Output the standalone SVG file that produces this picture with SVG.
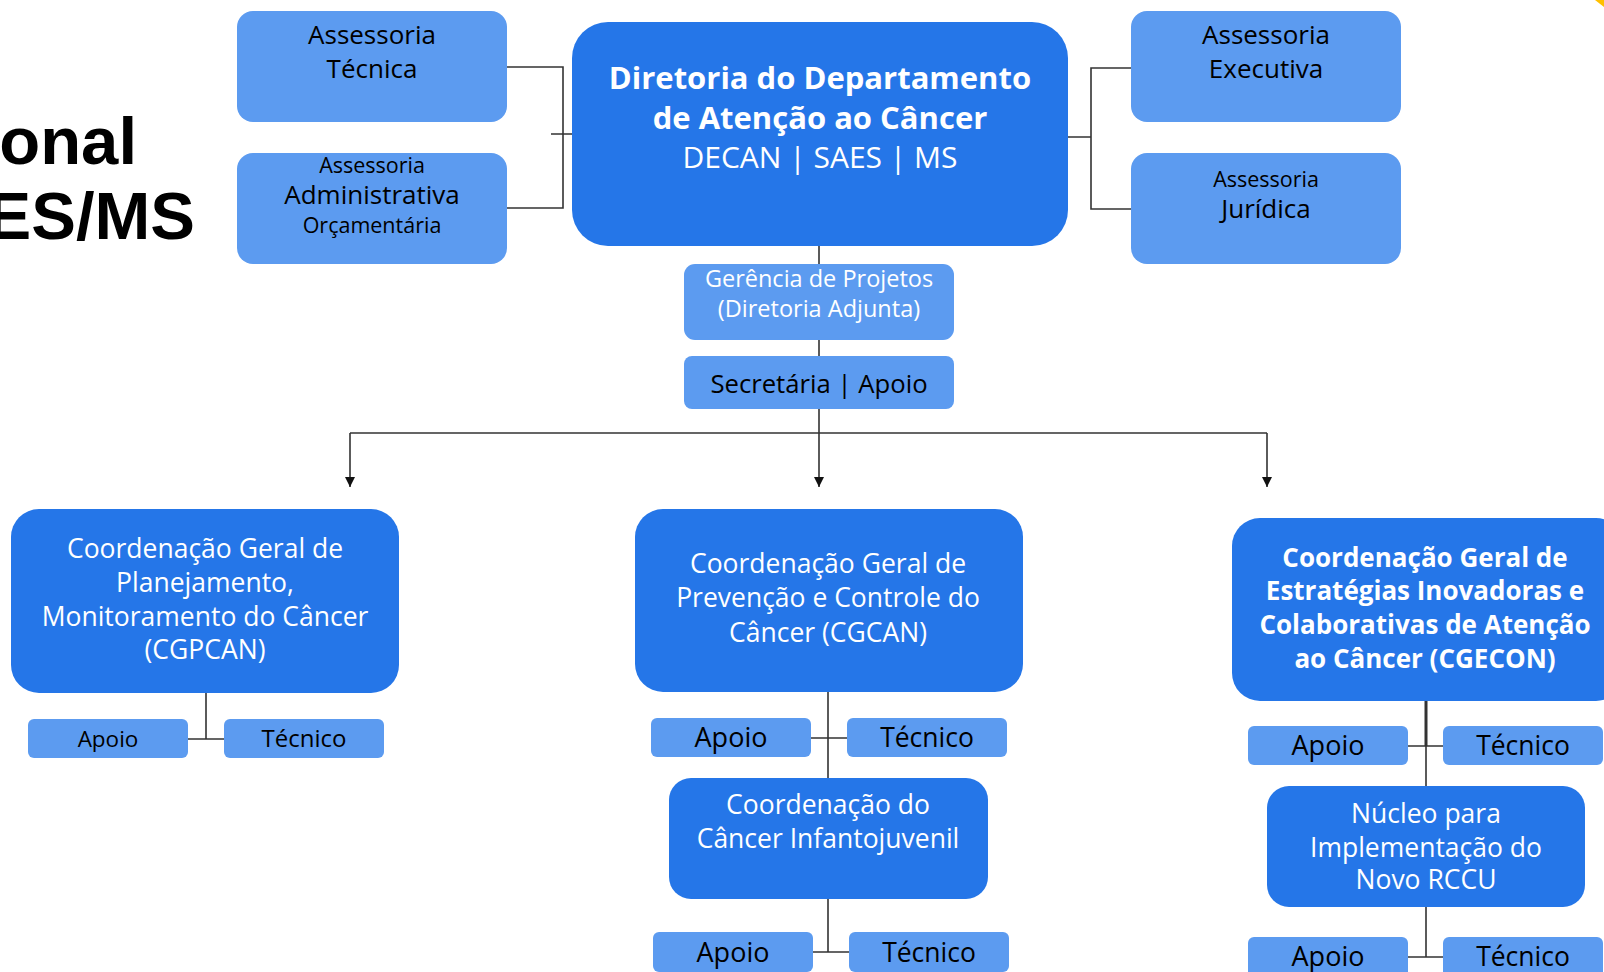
<svg xmlns="http://www.w3.org/2000/svg" width="1604" height="972" viewBox="0 0 1604 972">
<defs>
<marker id="arr" viewBox="0 0 10 10" refX="10" refY="5" markerWidth="10" markerHeight="10" markerUnits="userSpaceOnUse" orient="auto">
<path d="M0,0 L10,5 L0,10 Z" fill="#111"/>
</marker>
<style>
.dk{fill:#2576E8}
.lt{fill:#5C9BF0}
.t{font-family:"Open Sans","Noto Sans","DejaVu Sans",sans-serif;text-anchor:middle}
.w{fill:#fff}
.k{fill:#000}
.b{font-weight:bold}
.ln{stroke:#333;stroke-width:1.6;fill:none}
.title{font-family:"Liberation Sans",Arial,sans-serif;font-weight:bold;font-size:67px;fill:#000;text-anchor:end}
</style>
</defs>
<rect width="1604" height="972" fill="#fff"/>
<polygon points="1595,0 1604,0 1604,7" fill="#FFC000"/>
<g id="title">
<text class="title" x="137" y="164">onal</text>
<text class="title" x="195" y="239">ES/MS</text>
</g>
<g id="connectors">
<path class="ln" d="M507,67 H563 V208 H507 M551,134 H572"/>
<path class="ln" d="M1068,137 H1091 M1131,68 H1091 V209 H1131"/>
<path class="ln" d="M819,246 V265 M819,340 V356 M819,409 V433 M350,433 H1267"/>
<path class="ln" d="M350,433 V487" marker-end="url(#arr)"/>
<path class="ln" d="M819,433 V487" marker-end="url(#arr)"/>
<path class="ln" d="M1267,433 V487" marker-end="url(#arr)"/>
<path class="ln" d="M206,693 V739 M188,739 H224"/>
<path class="ln" d="M828,692 V778 M811,738 H847 M828,899 V952 M813,952 H849"/>
<path class="ln" d="M1426,701 V746" style="stroke-width:3"/>
<path class="ln" d="M1426,746 V786 M1408,746 H1443 M1426,907 V957 M1408,957 H1443"/>
</g>
<g id="assessoria-tecnica">
<rect class="lt" x="237" y="11" width="270" height="111" rx="16"/>
<text class="t k" font-size="26" x="372" y="44">Assessoria</text>
<text class="t k" font-size="26" x="372" y="78">Técnica</text>
</g>
<g id="assessoria-administrativa">
<rect class="lt" x="237" y="153" width="270" height="111" rx="16"/>
<text class="t k" font-size="21.5" x="372" y="173">Assessoria</text>
<text class="t k" font-size="26" x="372" y="204">Administrativa</text>
<text class="t k" font-size="21.5" x="372" y="233">Orçamentária</text>
</g>
<g id="diretoria">
<rect class="dk" x="572" y="22" width="496" height="224" rx="36"/>
<text class="t w b" font-size="31" x="820" y="89">Diretoria do Departamento</text>
<text class="t w b" font-size="31" x="820" y="129">de Atenção ao Câncer</text>
<text class="t w" font-size="30" x="820" y="168">DECAN | SAES | MS</text>
</g>
<g id="assessoria-executiva">
<rect class="lt" x="1131" y="11" width="270" height="111" rx="16"/>
<text class="t k" font-size="26" x="1266" y="44">Assessoria</text>
<text class="t k" font-size="26" x="1266" y="78">Executiva</text>
</g>
<g id="assessoria-juridica">
<rect class="lt" x="1131" y="153" width="270" height="111" rx="16"/>
<text class="t k" font-size="21.5" x="1266" y="187">Assessoria</text>
<text class="t k" font-size="26" x="1266" y="218">Jurídica</text>
</g>
<g id="gerencia">
<rect class="lt" x="684" y="264" width="270" height="76" rx="11"/>
<text class="t w" font-size="23.5" x="819" y="287">Gerência de Projetos</text>
<text class="t w" font-size="23.5" x="819" y="317">(Diretoria Adjunta)</text>
</g>
<g id="secretaria">
<rect class="lt" x="684" y="356" width="270" height="53" rx="8"/>
<text class="t k" font-size="25.7" x="819" y="393">Secretária | Apoio</text>
</g>
<g id="cgpcan">
<rect class="dk" x="11" y="509" width="388" height="184" rx="28"/>
<text class="t w" font-size="26.5" x="205" y="558">Coordenação Geral de</text>
<text class="t w" font-size="26.5" x="205" y="592">Planejamento,</text>
<text class="t w" font-size="26.5" x="205" y="626">Monitoramento do Câncer</text>
<text class="t w" font-size="26.5" x="205" y="659">(CGPCAN)</text>
</g>
<g id="cgpcan-apoio">
<rect class="lt" x="28" y="719" width="160" height="39" rx="6"/>
<text class="t k" font-size="22.5" x="108" y="747">Apoio</text>
</g>
<g id="cgpcan-tecnico">
<rect class="lt" x="224" y="719" width="160" height="39" rx="6"/>
<text class="t k" font-size="24" x="304" y="747">Técnico</text>
</g>
<g id="cgcan">
<rect class="dk" x="635" y="509" width="388" height="183" rx="28"/>
<text class="t w" font-size="26.5" x="828" y="573">Coordenação Geral de</text>
<text class="t w" font-size="26.5" x="828" y="607">Prevenção e Controle do</text>
<text class="t w" font-size="26.5" x="828" y="642">Câncer (CGCAN)</text>
</g>
<g id="cgcan-apoio">
<rect class="lt" x="651" y="718" width="160" height="39" rx="6"/>
<text class="t k" font-size="27" x="731" y="747">Apoio</text>
</g>
<g id="cgcan-tecnico">
<rect class="lt" x="847" y="718" width="160" height="39" rx="6"/>
<text class="t k" font-size="26.5" x="927" y="747">Técnico</text>
</g>
<g id="infantojuvenil">
<rect class="dk" x="669" y="778" width="319" height="121" rx="22"/>
<text class="t w" font-size="26.5" x="828" y="814">Coordenação do</text>
<text class="t w" font-size="26.5" x="828" y="848">Câncer Infantojuvenil</text>
</g>
<g id="infanto-apoio">
<rect class="lt" x="653" y="932" width="160" height="40" rx="6"/>
<text class="t k" font-size="27" x="733" y="962">Apoio</text>
</g>
<g id="infanto-tecnico">
<rect class="lt" x="849" y="932" width="160" height="40" rx="6"/>
<text class="t k" font-size="26.5" x="929" y="962">Técnico</text>
</g>
<g id="cgecon">
<rect class="dk" x="1232" y="518" width="392" height="183" rx="28"/>
<text class="t w b" font-size="26" x="1425" y="567">Coordenação Geral de</text>
<text class="t w b" font-size="26" x="1425" y="600">Estratégias Inovadoras e</text>
<text class="t w b" font-size="26" x="1425" y="634">Colaborativas de Atenção</text>
<text class="t w b" font-size="26" x="1425" y="668">ao Câncer (CGECON)</text>
</g>
<g id="cgecon-apoio">
<rect class="lt" x="1248" y="726" width="160" height="39" rx="6"/>
<text class="t k" font-size="27" x="1328" y="755">Apoio</text>
</g>
<g id="cgecon-tecnico">
<rect class="lt" x="1443" y="726" width="160" height="39" rx="6"/>
<text class="t k" font-size="26.5" x="1523" y="755">Técnico</text>
</g>
<g id="nucleo">
<rect class="dk" x="1267" y="786" width="318" height="121" rx="22"/>
<text class="t w" font-size="26.5" x="1426" y="823">Núcleo para</text>
<text class="t w" font-size="26.5" x="1426" y="857">Implementação do</text>
<text class="t w" font-size="26.5" x="1426" y="889">Novo RCCU</text>
</g>
<g id="nucleo-apoio">
<rect class="lt" x="1248" y="937" width="160" height="40" rx="6"/>
<text class="t k" font-size="27" x="1328" y="966">Apoio</text>
</g>
<g id="nucleo-tecnico">
<rect class="lt" x="1443" y="937" width="160" height="40" rx="6"/>
<text class="t k" font-size="26.5" x="1523" y="966">Técnico</text>
</g>
</svg>
